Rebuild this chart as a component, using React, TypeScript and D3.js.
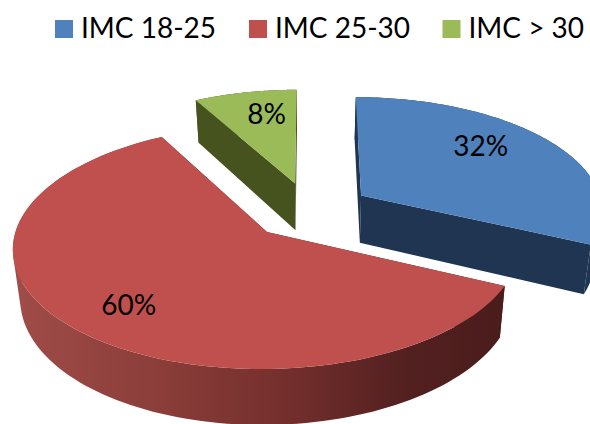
import React from "react";
import * as d3 from "d3";

// Body-mass-index groups and their share of the sample
const categories = ["IMC 18-25", "IMC 25-30", "IMC > 30"];
const shares = [32, 60, 8];
const shareLabels = ["32%", "60%", "8%"];
const topColors = ["#4f81bd", "#c0504d", "#9bbb59"];
const sideColors = ["#1f3552", "url(#redRim)", "#46531f"];
const sliceRadius = [0.985, 1, 0.96];
const labelRadius = [0.71, 0.754, 0.705];
const labelAngleDeg = [48.7, 221.5, 349];
const legendX = [55, 249, 442.5];
const drawOrder = [2, 0, 1];

const WIDTH = 590;
const HEIGHT = 424;
const CX = 310;
const CY = 210.6;
const RX = 246;
const RY = 115;
const PERSPECTIVE = 0.12;
const EXPLODE = 0.25;
const DEPTH = 48;
const BASE_SHRINK = 0.975;

type Pt = [number, number];

// Maps a point on the pie's plane (unit disc) to the screen, with foreshortening
function project(u: number, v: number): { top: Pt; base: Pt } {
  const w = 1 / (1 - PERSPECTIVE * v);
  const x = CX + RX * u * w;
  const y = CY + RY * v * w;
  return {
    top: [x, y],
    base: [CX + (x - CX) * BASE_SHRINK, y + DEPTH * w],
  };
}

const line = d3.line<Pt>().curve(d3.curveLinear);
const closed = (pts: Pt[]) => (line(pts) ?? "") + "Z";

// One path of same-wound quads, so the curved wall fills without seams or folds
function wallPath(rim: { top: Pt; base: Pt }[]): string {
  return d3
    .pairs(rim)
    .map(([a, b]) => {
      const quad: Pt[] = [a.top, b.top, b.base, a.base];
      return closed(d3.polygonArea(quad) < 0 ? quad.reverse() : quad);
    })
    .join("");
}

export default function App() {
  const arcs = d3.pie<number>().sort(null)(shares);

  const slices = arcs.map((arc, i) => {
    const mid = (arc.startAngle + arc.endAngle) / 2;
    const ox = EXPLODE * Math.sin(mid);
    const oy = -EXPLODE * Math.cos(mid);
    const r = sliceRadius[i];
    const steps = d3.range(0, 121).map(
      (s) => arc.startAngle + ((arc.endAngle - arc.startAngle) * s) / 120
    );
    const rim = steps.map((a) => project(ox + r * Math.sin(a), oy - r * Math.cos(a)));
    const apex = project(ox, oy);
    const first = rim[0];
    const last = rim[rim.length - 1];
    const lr = labelRadius[i];
    const la = (labelAngleDeg[i] * Math.PI) / 180;
    const label = project(ox + lr * Math.sin(la), oy - lr * Math.cos(la)).top;
    return {
      i,
      topPath: closed([apex.top, ...rim.map((p) => p.top)]),
      rimPath: wallPath(rim),
      cutA: closed([apex.top, first.top, first.base, apex.base]),
      cutB: closed([apex.top, last.top, last.base, apex.base]),
      label,
    };
  });

  return (
    <svg
      width={WIDTH}
      height={HEIGHT}
      viewBox={`0 0 ${WIDTH} ${HEIGHT}`}
      style={{ position: "absolute", left: 0, top: 0, display: "block", background: "#fff" }}
      fontFamily="Lato, 'Open Sans', sans-serif"
    >
      <defs>
        <linearGradient id="redRim" gradientUnits="userSpaceOnUse" x1={15} x2={505} y1={0} y2={0}>
          <stop offset="0" stopColor="#a04c48" />
          <stop offset="0.3" stopColor="#8a3d39" />
          <stop offset="0.55" stopColor="#742f2d" />
          <stop offset="0.8" stopColor="#532020" />
          <stop offset="1" stopColor="#4a1c1b" />
        </linearGradient>
      </defs>

      {categories.map((c, i) => (
        <g key={c}>
          <rect x={legendX[i]} y={20} width={18} height={18} fill={topColors[i]} />
          <text x={legendX[i] + 26} y={38} fontSize={28} fill="#000">
            {c}
          </text>
        </g>
      ))}

      {drawOrder.map((k) => {
        const s = slices[k];
        return (
          <g key={k}>
            <path d={s.cutA} fill={k === 1 ? "#4a1c1b" : sideColors[k]} />
            <path d={s.cutB} fill={k === 1 ? "#4a1c1b" : sideColors[k]} />
            <path d={s.rimPath} fill={sideColors[k]} />
            <path d={s.topPath} fill={topColors[k]} />
          </g>
        );
      })}

      {slices.map((s) => (
        <text
          key={s.i}
          x={s.label[0]}
          y={s.label[1] + 10}
          fontSize={28}
          textAnchor="middle"
          fill="#000"
        >
          {shareLabels[s.i]}
        </text>
      ))}
    </svg>
  );
}
